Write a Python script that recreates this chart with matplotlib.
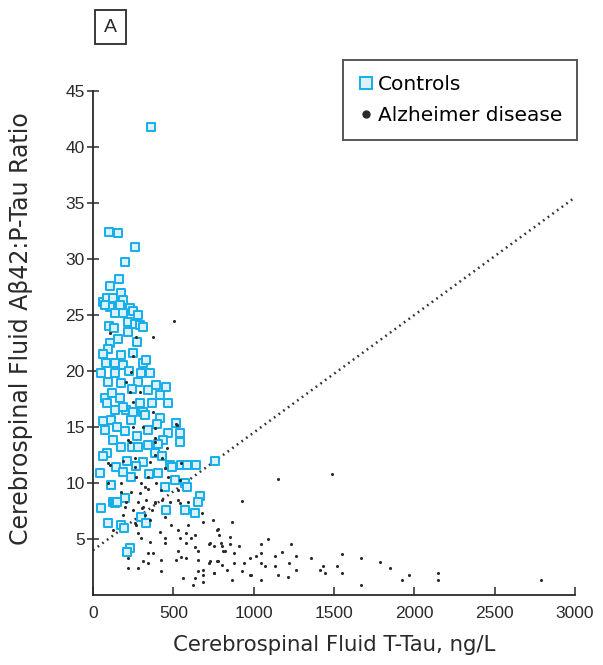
import matplotlib
matplotlib.use("Agg")
import matplotlib.pyplot as plt
from matplotlib.lines import Line2D

plt.rcParams['font.family'] = ['Liberation Sans', 'DejaVu Sans']

# controls: CSF T-Tau (ng/L) and Abeta42:P-Tau ratio
ctrl_tau = [362, 100, 156, 262, 200, 162, 106, 62, 87, 125, 175, 187, 106, 169, 231, 137,
            187, 250, 75, 219, 262, 294, 312, 219, 106, 94, 81, 137, 187, 175, 250, 312,
            50, 137, 300, 356, 94, 175, 281, 394, 456, 75, 169, 344, 419, 137, 206, 312,
            469, 112, 237, 419, 519, 75, 200, 344, 469, 87, 187, 294, 369, 250, 325, 544,
            544, 125, 87, 244, 344, 437, 62, 175, 281, 387, 481, 550, 644, 762, 44, 144,
            312, 406, 512, 575, 237, 125, 200, 669, 50, 137, 94, 175, 656, 231, 456, 575,
            637, 494, 587, 406, 60, 187, 587, 150, 100, 190, 131, 156, 275, 244, 400, 150,
            275, 60, 120, 225, 330, 280, 210, 430, 350, 270, 110, 450, 300, 331, 210]
ctrl_ratio = [41.8, 32.4, 32.3, 31.1, 29.7, 28.2, 27.6, 26.2, 26.5, 26.5, 27.0, 26.3, 25.7, 25.9, 25.6, 25.2,
              25.2, 25.4, 25.9, 24.4, 24.2, 24.1, 23.9, 23.5, 22.5, 22.0, 20.7, 20.7, 20.5, 21.4, 21.6, 20.7,
              19.8, 19.8, 19.8, 19.8, 19.0, 18.9, 19.0, 18.75, 18.6, 17.6, 17.6, 18.3, 17.9, 16.5, 16.5, 16.3,
              17.1, 15.6, 15.6, 15.8, 15.4, 14.7, 14.6, 14.7, 14.5, 17.1, 16.8, 17.1, 17.1, 16.3, 16.1, 14.5,
              13.7, 13.8, 12.7, 13.2, 13.4, 13.8, 12.4, 13.2, 13.2, 12.7, 11.6, 11.6, 11.6, 12.0, 10.9, 11.4,
              11.9, 10.9, 10.3, 10.0, 10.5, 8.3, 8.7, 8.8, 7.8, 8.2, 6.4, 6.25, 8.3, 4.2, 7.6, 7.6,
              7.3, 11.4, 11.6, 13.5, 15.5, 11.0, 9.6, 8.3, 24.0, 6.0, 23.8, 22.9, 22.6, 18.4, 15.3, 15.0,
              14.2, 21.5, 18.0, 20.0, 21.0, 25.0, 12.0, 12.4, 10.8, 11.5, 9.8, 9.6, 7.0, 6.4, 3.8]

# Alzheimer disease
ad_tau = [1150, 1488, 1088, 1044, 1231, 1013, 1044, 1131, 1175, 1263, 1356, 1550, 1669, 1788, 1044, 1069,
          1131, 1219, 1431, 1519, 1850, 981, 1044, 1150, 1213, 1263, 1413, 1444, 1550, 1669, 1925, 1969,
          2150, 2150, 2788, 975,
          925, 681, 687, 744, 863, 775, 787, 850, 725, 756, 806, 819, 850, 906, 875, 725,
          775, 806, 875, 937, 687, 687, 756, 837, 863, 975,
          200, 250, 312, 325, 387, 450, 544, 187, 262, 356, 419, 487, 531, 594, 581, 637,
          769, 281, 300, 356, 450, 450, 544, 581, 612, 637, 731, 794, 812, 219, 312, 344,
          375, 344, 425, 531, 519, 550, 581, 656, 656, 731, 769, 219, 281, 425, 656, 750,
          562, 637, 625, 687, 925, 125, 269,
          231, 387, 94, 187, 262, 356, 387, 550, 94, 175, 269, 300, 344, 394, 469, 175,
          237, 294, 344, 425, 531, 206, 281, 331, 387, 481, 531, 594,
          106, 269, 375, 250, 237, 206, 231, 294, 250, 375, 250, 312, 519, 387, 506,
          219, 262, 106, 325, 369, 431, 544, 525, 387, 462, 431, 450, 306]
ad_ratio = [10.4, 10.8, 5.0, 4.55, 4.55, 3.5, 3.75, 3.5, 3.8, 3.5, 3.3, 3.7, 3.3, 2.95, 2.86, 2.6,
            2.6, 2.86, 2.6, 2.6, 2.4, 1.8, 1.34, 1.8, 1.6, 2.2, 2.2, 2.0, 2.0, 0.9, 1.34, 1.8,
            2.0, 1.34, 1.34, 3.3,
            8.4, 7.3, 6.5, 6.7, 6.5, 5.9, 5.4, 5.2, 4.55, 4.4, 4.4, 3.9, 4.55, 4.4, 3.75, 2.86,
            3.0, 2.7, 2.86, 2.86, 2.2, 1.8, 2.0, 2.2, 1.34, 1.8,
            7.9, 7.6, 7.9, 7.1, 8.2, 7.0, 8.2, 7.1, 6.4, 6.7, 5.6, 6.25, 5.8, 6.25, 5.5, 5.4,
            5.8, 5.5, 5.1, 4.7, 5.1, 4.6, 5.1, 4.6, 5.1, 4.3, 4.6, 4.6, 3.9, 3.3, 3.0, 3.75,
            3.75, 2.86, 3.1, 3.9, 3.1, 3.4, 3.3, 3.9, 3.1, 3.0, 3.0, 2.4, 2.4, 2.1, 2.1, 2.0,
            1.5, 1.5, 0.9, 1.2, 2.1, 5.8, 6.25,
            13.7, 13.7, 11.8, 12.0, 11.4, 11.9, 12.5, 11.8, 10.0, 10.0, 10.5, 10.0, 10.5, 10.0, 10.5, 9.2,
            9.2, 9.1, 9.5, 9.4, 9.4, 8.3, 8.3, 8.5, 8.3, 8.3, 8.5, 8.3,
            23.4, 23.0, 23.0, 21.3, 19.9, 19.0, 18.1, 18.1, 17.2, 16.3, 15.0, 15.0, 15.3, 14.0, 24.5,
            13.8, 12.2, 11.6, 9.6, 7.6, 8.5, 10.3, 15.2, 14.9, 13.1, 12.2, 11.3, 7.8]

# dotted separation line: ratio = intercept + slope * tau
line_tau = [0, 3000]
line_intercept = 4.0
line_slope = 0.0105

x_ticks = [0, 500, 1000, 1500, 2000, 2500, 3000]
y_ticks = [5, 10, 15, 20, 25, 30, 35, 40, 45]

CYAN = '#14aee8'
FILL = '#dcf1fb'
INK = '#2a2a2a'
WIDE = ['DejaVu Sans']


def main():
    fig = plt.figure(figsize=(6.03, 6.65), dpi=100)
    ax = fig.add_axes([93 / 603, 1 - 595 / 665, 482 / 603, 504 / 665])

    line_ratio = [line_intercept + line_slope * t for t in line_tau]
    ax.plot(line_tau, line_ratio, color='#333333', lw=1.8,
            linestyle=(0, (0.7, 1.6)), zorder=1)

    ax.scatter(ctrl_tau, ctrl_ratio, marker='s', s=30, facecolor=FILL,
               edgecolor=CYAN, linewidths=1.4, zorder=2)
    ax.scatter(ad_tau, ad_ratio, marker='o', s=5, color=INK, linewidths=0, zorder=3)

    ax.set_xlim(0, 3000)
    ax.set_ylim(0, 45)
    ax.set_xticks(x_ticks)
    ax.set_yticks(y_ticks)
    ax.tick_params(axis='y', direction='inout', length=8, width=1.1, colors=INK,
                   labelsize=12.5, pad=2)
    ax.tick_params(axis='x', direction='in', length=6, width=1.1, colors=INK,
                   labelsize=12.5, pad=8)
    for side in ['top', 'right']:
        ax.spines[side].set_visible(False)
    for side in ['left', 'bottom']:
        ax.spines[side].set_linewidth(1.3)
        ax.spines[side].set_color(INK)

    ax.set_xlabel('Cerebrospinal Fluid T-Tau, ng/L', fontsize=15.3, color=INK,
                  labelpad=10, family=WIDE)
    ax.set_ylabel('Cerebrospinal Fluid Aβ42:P-Tau Ratio', fontsize=17, color=INK,
                  family=WIDE)
    ax.yaxis.set_label_coords(-0.125, 0.529)

    handles = [
        Line2D([], [], marker='s', linestyle='', markersize=8, markerfacecolor=FILL,
               markeredgecolor=CYAN, markeredgewidth=1.4),
        Line2D([], [], marker='o', linestyle='', markersize=5, color=INK),
    ]
    leg = ax.legend(handles, ['Controls', 'Alzheimer disease'], loc='upper right',
                    bbox_to_anchor=(1.005, 1.062), frameon=True,
                    prop={'family': WIDE, 'size': 14.5},
                    fancybox=False, handletextpad=0.2, handlelength=0.8,
                    borderpad=0.75, labelspacing=0.62, borderaxespad=0)
    leg.get_frame().set_edgecolor(INK)
    leg.get_frame().set_linewidth(1.4)

    fig.text(110.5 / 603, 1 - 27 / 665, 'A', fontsize=14, ha='center', va='center',
             color=INK, bbox=dict(boxstyle='square,pad=0.45', facecolor='white',
                                  edgecolor=INK, linewidth=1.3))

    fig.savefig('out.png', dpi=100)


if __name__ == '__main__':
    main()
